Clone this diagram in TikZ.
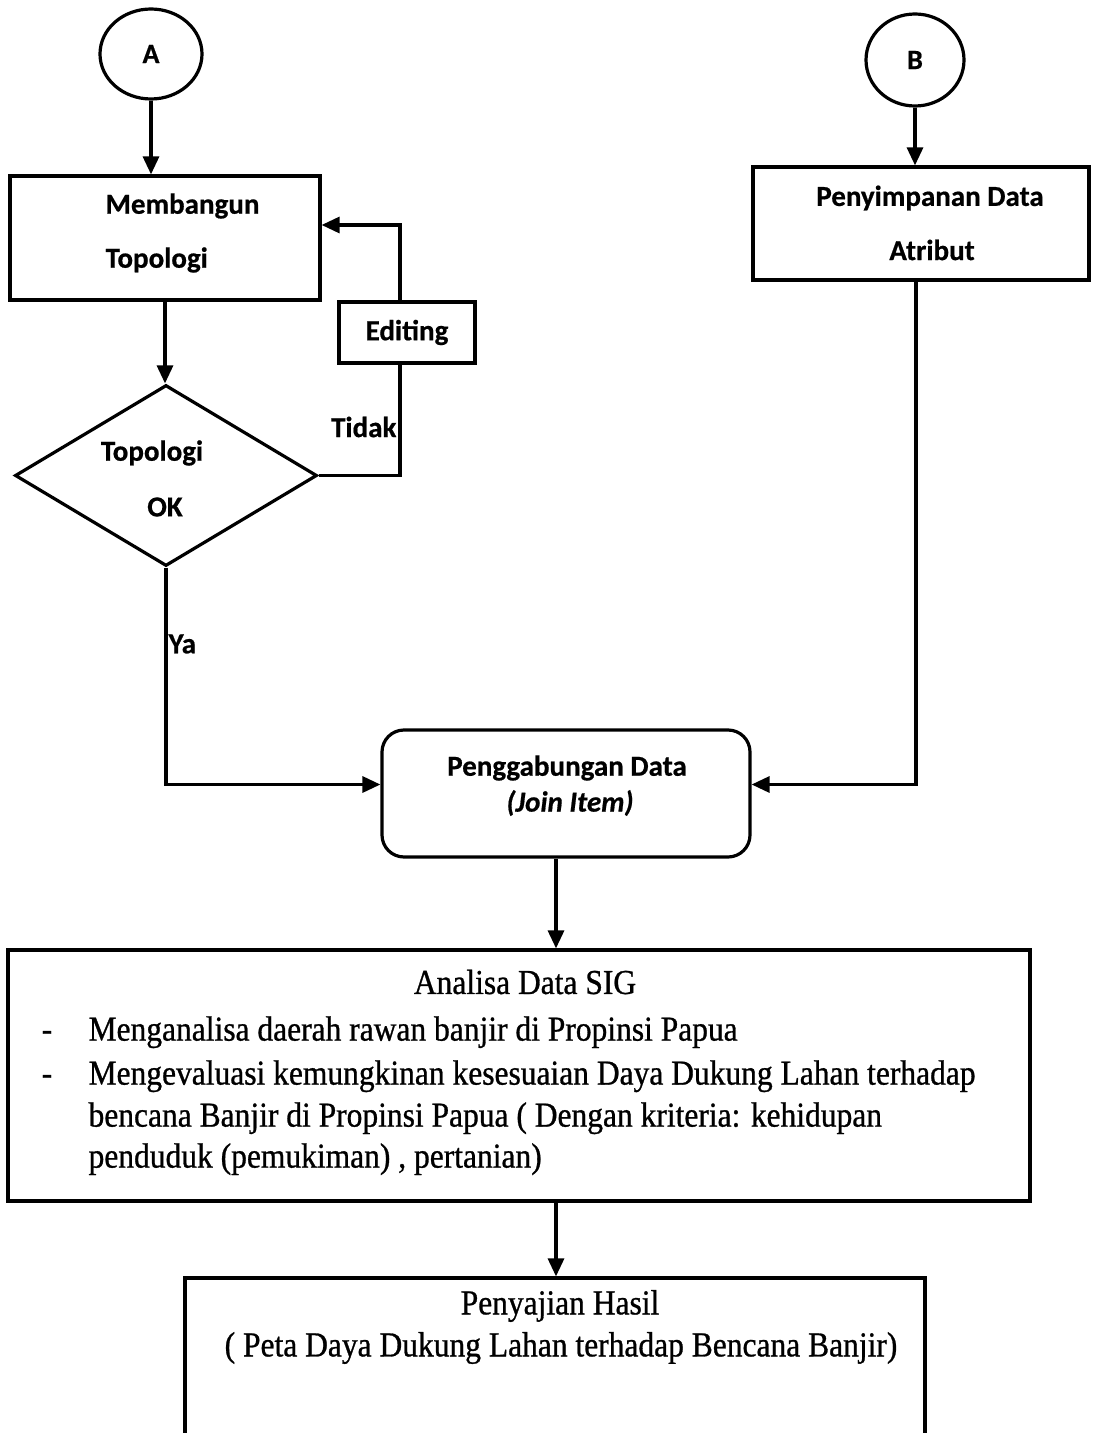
\documentclass[tikz,border=0pt]{standalone}
\usepackage{fontspec}
\setmainfont[FakeStretch=0.9,FakeBold=0.8]{Liberation Serif}
\newfontfamily\calfont[FakeBold=0.6]{Carlito}
\usepackage{tikz}
\usetikzlibrary{arrows.meta,positioning,shapes.geometric,calc}

\begin{document}
\begin{tikzpicture}[x=0.5pt,y=-0.5pt,line width=1.6pt,
    arr/.style={-{Triangle[length=9pt,width=8pt]}},
    box/.style={draw,rectangle,inner sep=0pt},
    conn/.style={draw,ellipse,inner sep=0pt,font=\calfont\bfseries\fontsize{14}{16}\selectfont},
    lbl/.style={font=\calfont\bfseries\fontsize{14.5}{17}\selectfont,inner sep=0pt},
    txt/.style={font=\fontsize{17.5}{20}\selectfont,inner sep=0pt}]
    \useasboundingbox (0,0) rectangle (1094,1433);

    % connectors A and B
    \node[conn, minimum width=51pt, minimum height=45pt] (A) at (151,54) {A};
    \node[conn, minimum width=49pt, minimum height=46pt] (B) at (915,60) {B};

    % left branch
    \node[box, minimum width=155pt, minimum height=62pt] (memb) at (165,238) {};
    \node[lbl, anchor=west] (membT1) at (104,206) {Membangun};
    \node[lbl, anchor=west] (membT2) at (104,260) {Topologi};
    \node[draw, diamond, inner sep=0pt, minimum width=151pt, minimum height=90.5pt] (dec) at (166,475.5) {};
    \node[lbl] (decT1) at (152,453) {Topologi};
    \node[lbl] (decT2) at (165,507) {OK};
    \node[box, lbl, draw, minimum width=68pt, minimum height=30.5pt] (edit) at (407,332.5) {Editing};
    \node[lbl, anchor=east] (tidak) at (398,427) {Tidak};
    \node[lbl, anchor=west] (ya) at (167,644) {Ya};

    % right branch
    \node[box, minimum width=168pt, minimum height=56.5pt] (simp) at (921,223.5) {};
    \node[lbl] (simpT1) at (930,198) {Penyimpanan Data};
    \node[lbl] (simpT2) at (932,250) {Atribut};

    % join
    \node[draw, rectangle, rounded corners=11pt, minimum width=184pt, minimum height=63.5pt] (join) at (566,793.5) {};
    \node[lbl] (joinT1) at (567,768) {Penggabungan Data};
    \node[lbl, font=\calfont\bfseries\itshape\fontsize{14.5}{17}\selectfont] (joinT2) at (570,803) {(Join Item)};

    % analysis and result
    \node[box, minimum width=511pt, minimum height=125.5pt] (anal) at (519,1075.5) {};
    \node[txt] (analT) at (525,982) {Analisa Data SIG};
    \node[txt, anchor=mid] (d1) at (47,1036) {-};
    \node[txt, anchor=mid] (d2) at (47,1080) {-};
    \node[txt, anchor=mid west] (l1) at (87,1036) {Menganalisa daerah rawan banjir di Propinsi Papua};
    \node[txt, anchor=mid west] (l2) at (87,1080) {Mengevaluasi kemungkinan kesesuaian Daya Dukung Lahan terhadap};
    \node[txt, anchor=mid west] (l3) at (87,1122) {bencana Banjir di Propinsi Papua ( Dengan kriteria: kehidupan};
    \node[txt, anchor=mid west] (l4) at (87,1163) {penduduk (pemukiman) , pertanian)};
    \node[box, minimum width=370pt, minimum height=86pt] (saji) at (555,1364) {};
    \node[txt] (sajiT1) at (560,1306) {Penyajian Hasil};
    \node[txt] (sajiT2) at (561,1348) {( Peta Daya Dukung Lahan terhadap Bencana Banjir)};

    \coordinate (mid) at (556,0);
    \coordinate (fb) at (400,0);

    % arrows
    \draw[arr] (A.south) -- (A.south |- memb.north);
    \draw[arr] (B.south) -- (B.south |- simp.north);
    \draw[arr] (memb.south) -- (memb.south |- dec.north);
    \draw (dec.east) -| (edit.south -| fb);
    \draw[arr] (edit.north -| fb) |- ([yshift=6.5pt]memb.east);
    \draw[arr] (dec.south) |- ([yshift=4.5pt]join.west);
    \draw[arr] ([xshift=-2.5pt]simp.south) |- ([yshift=4.5pt]join.east);
    \draw[arr] (join.south -| mid) -- (anal.north -| mid);
    \draw[arr] (anal.south -| mid) -- (saji.north -| mid);
\end{tikzpicture}
\end{document}
